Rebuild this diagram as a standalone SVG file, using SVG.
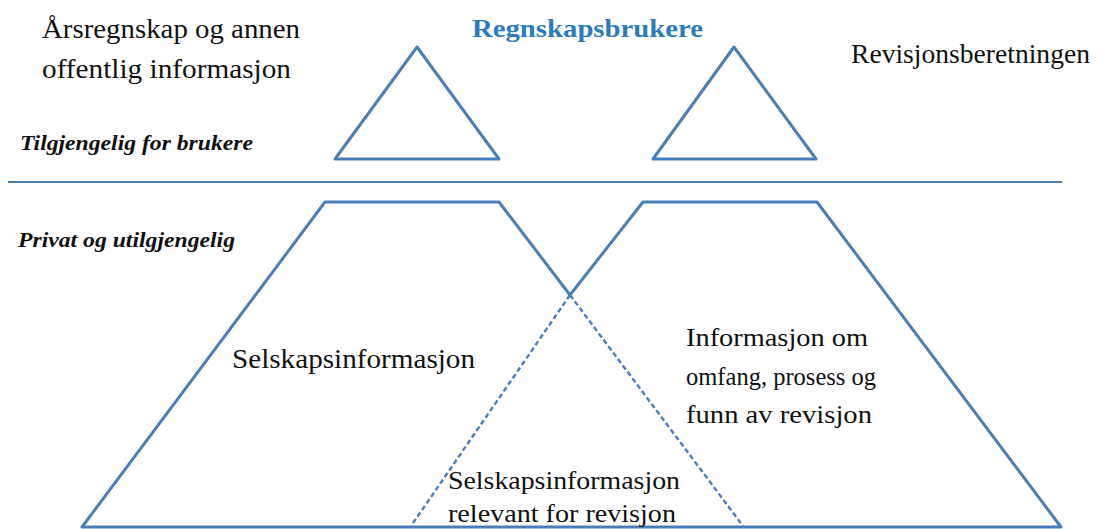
<svg xmlns="http://www.w3.org/2000/svg" width="1104" height="529" viewBox="0 0 1104 529">
<style>
.ln{fill:none;stroke:#4a7ebb;stroke-width:3;stroke-linejoin:round;stroke-linecap:round}
.thin{fill:none;stroke:#4a7ebb;stroke-width:2.2}
.dash{fill:none;stroke:#4a7ebb;stroke-width:2.4;stroke-dasharray:5 3}
.t{font-family:"Liberation Serif","Times New Roman",serif;font-size:27px;fill:#111}
.c{font-family:"Liberation Serif","Times New Roman",serif;font-size:25px;fill:#111}
.bi{font-family:"Liberation Serif","Times New Roman",serif;font-size:20px;font-weight:bold;font-style:italic;fill:#111}
.h{font-family:"Liberation Serif","Times New Roman",serif;font-size:25px;font-weight:bold;fill:#2b7bc0}
</style>
<rect width="1104" height="529" fill="#fff"/>
<g id="labels">
<text class="t" x="42" y="38" textLength="258" lengthAdjust="spacingAndGlyphs">Årsregnskap og annen</text>
<text class="t" x="42" y="78" textLength="249" lengthAdjust="spacingAndGlyphs">offentlig informasjon</text>
<text class="h" x="472" y="37" textLength="231" lengthAdjust="spacingAndGlyphs">Regnskapsbrukere</text>
<text class="t" x="851" y="63" textLength="239" lengthAdjust="spacingAndGlyphs">Revisjonsberetningen</text>
<text class="bi" x="20" y="150" textLength="233" lengthAdjust="spacingAndGlyphs">Tilgjengelig for brukere</text>
<text class="bi" x="18" y="247" textLength="217" lengthAdjust="spacingAndGlyphs">Privat og utilgjengelig</text>
</g>
<g id="divider">
<line class="thin" x1="8" y1="182" x2="1062" y2="182"/>
</g>
<g id="triangle-left">
<polygon class="ln" points="417,47 499,159 335,159"/>
</g>
<g id="triangle-right">
<polygon class="ln" points="734,47 816,159 653,159"/>
</g>
<g id="connectors">
<polyline class="ln" points="570,295 499,202 325,202 82,527 1061,527 817,202 643,202 570,295"/>
<line class="dash" x1="570" y1="295" x2="411" y2="526"/>
<line class="dash" x1="570" y1="295" x2="743" y2="526"/>
</g>
<g id="node-selskap">
<text class="t" x="232" y="368" textLength="243" lengthAdjust="spacingAndGlyphs">Selskapsinformasjon</text>
</g>
<g id="node-revisjon">
<text class="c" x="686" y="346" textLength="182" lengthAdjust="spacingAndGlyphs">Informasjon om</text>
<text class="c" x="686" y="385" textLength="190" lengthAdjust="spacingAndGlyphs">omfang, prosess og</text>
<text class="c" x="686" y="423" textLength="186" lengthAdjust="spacingAndGlyphs">funn av revisjon</text>
</g>
<g id="node-relevant">
<text class="c" x="448" y="489" textLength="232" lengthAdjust="spacingAndGlyphs">Selskapsinformasjon</text>
<text class="c" x="448" y="522" textLength="228" lengthAdjust="spacingAndGlyphs">relevant for revisjon</text>
</g>
</svg>
